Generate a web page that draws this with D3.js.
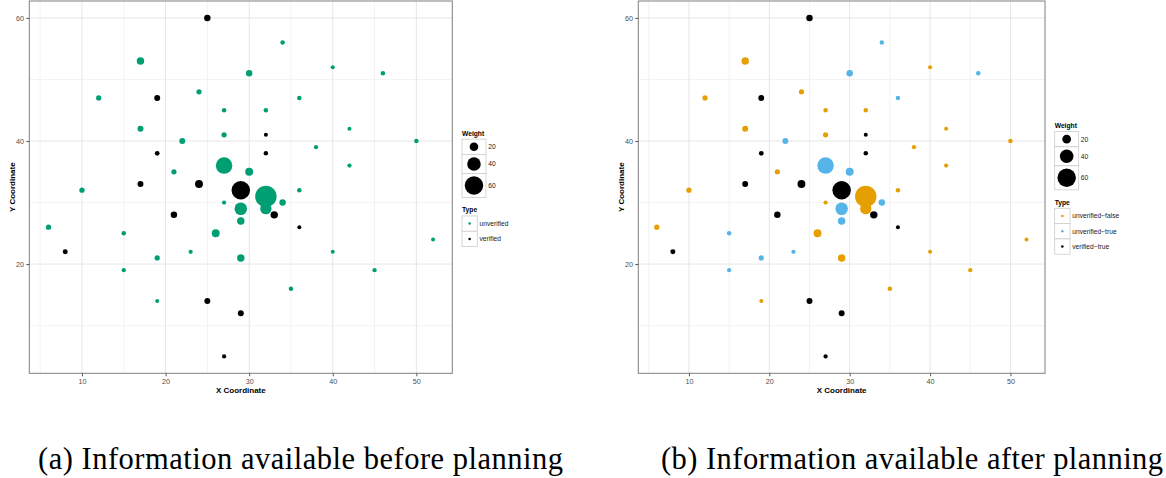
<!DOCTYPE html>
<html>
<head>
<meta charset="utf-8">
<script src="https://cdn.jsdelivr.net/npm/d3@7"></script>
<style>
  body { margin: 0; background: #fff; }
  svg { display: block; }
</style>
</head>
<body>
<svg id="chart" width="1166" height="478"></svg>
<script>
// Candidate target locations on the grid
const xCoord = [25, 34, 17, 30, 40, 46, 12, 19, 24, 27, 32, 36, 17, 27, 32, 42, 22, 50, 38, 19,
                32, 27, 30, 21, 42, 17, 24, 29, 32, 10, 36, 6, 8, 15, 19, 15, 23, 29, 26, 29,
                29, 27, 32, 34, 33, 21, 36, 40, 45, 52, 35, 19, 25, 29, 27];
const yCoord = [60, 56, 53, 51, 52, 51, 47, 47, 48, 45, 45, 47, 42, 41, 41, 42, 40, 40, 39, 38,
                38, 36, 35, 35, 36, 33, 33, 32, 31, 32, 32, 26, 22, 25, 21, 19, 22, 21, 25, 27,
                29, 30, 29, 30, 28, 28, 26, 22, 19, 24, 16, 14, 14, 12, 5];
const weight = [11, 3, 15, 11, 1, 3, 6, 9, 6, 3, 3, 3, 9, 6, 1, 1, 9, 3, 2, 4,
                3, 52, 17, 6, 2, 9, 17, 60, 72, 6, 3, 6, 5, 3, 6, 2, 2, 15, 17, 15,
                36, 2, 31, 11, 15, 11, 1, 1, 2, 1, 3, 1, 9, 9, 2];
// Verification status and ground truth known after planning
const typeAfter = ["verified-true", "unverified-true", "unverified-false", "unverified-true", "unverified-false",
                   "unverified-true", "unverified-false", "verified-true", "unverified-false", "unverified-false",
                   "unverified-false", "unverified-true", "unverified-false", "unverified-false", "verified-true",
                   "unverified-false", "unverified-true", "unverified-false", "unverified-false", "verified-true",
                   "verified-true", "unverified-true", "unverified-true", "unverified-false", "unverified-false",
                   "verified-true", "verified-true", "verified-true", "unverified-false", "unverified-false",
                   "unverified-false", "unverified-false", "verified-true", "unverified-true", "unverified-true",
                   "unverified-true", "unverified-true", "unverified-false", "unverified-false", "unverified-true",
                   "unverified-true", "unverified-false", "unverified-false", "unverified-true", "verified-true",
                   "verified-true", "verified-true", "unverified-false", "unverified-false", "unverified-false",
                   "unverified-false", "unverified-false", "verified-true", "verified-true", "verified-true"];
// Before planning only the verified flag is known
const typeBefore = typeAfter.map(t => t.split("-")[0]);

const xTicks = [10, 20, 30, 40, 50];
const yTicks = [20, 40, 60];
const weightBreaks = [20, 40, 60];
const typesBefore = ["unverified", "verified"];
const typesAfter = ["unverified-false", "unverified-true", "verified-true"];
const captions = ["(a) Information available before planning", "(b) Information available after planning"];

const colorsBefore = ["#009E73", "#000000"];
const colorsAfter = ["#E69F00", "#56B4E9", "#000000"];

const svg = d3.select("#chart");
const sans = "'Liberation Sans', Arial, Helvetica, sans-serif";

const points = xCoord.map((x, i) => ({
  x, y: yCoord[i], w: weight[i], before: typeBefore[i], after: typeAfter[i]
}));

// Axis ranges padded by 5% each side
function padded(vals) {
  const [lo, hi] = d3.extent(vals);
  const p = (hi - lo) * 0.05;
  return [lo - p, hi + p];
}
const xDomain = padded(xCoord);
const yDomain = padded(yCoord);

// Point radius grows with weight
const rScale = d3.scaleLinear().domain(d3.extent(weight)).range([2.0, 10.7]);

const plotTop = 1, plotBottom = 373.3;

function minorTicks(major, domain) {
  const step = major[1] - major[0];
  const out = [];
  const first = major[0] - step / 2;
  for (let v = first; v <= domain[1]; v += step) if (v >= domain[0]) out.push(v);
  return out.filter(v => !major.includes(v));
}

function drawPanel(cfg) {
  const g = svg.append("g");
  const x = d3.scaleLinear().domain(xDomain).range([cfg.left, cfg.right]);
  const y = d3.scaleLinear().domain(yDomain).range([plotBottom, plotTop]);

  // background grid
  const grid = g.append("g");
  grid.selectAll(".mx").data(minorTicks(xTicks, xDomain)).join("line")
    .attr("x1", d => x(d)).attr("x2", d => x(d))
    .attr("y1", plotTop).attr("y2", plotBottom)
    .attr("stroke", "#F3F3F3").attr("stroke-width", 1);
  grid.selectAll(".my").data(minorTicks(yTicks, yDomain)).join("line")
    .attr("y1", d => y(d)).attr("y2", d => y(d))
    .attr("x1", cfg.left).attr("x2", cfg.right)
    .attr("stroke", "#F3F3F3").attr("stroke-width", 1);
  grid.selectAll(".Mx").data(xTicks).join("line")
    .attr("x1", d => x(d)).attr("x2", d => x(d))
    .attr("y1", plotTop).attr("y2", plotBottom)
    .attr("stroke", "#E6E6E6").attr("stroke-width", 1);
  grid.selectAll(".My").data(yTicks).join("line")
    .attr("y1", d => y(d)).attr("y2", d => y(d))
    .attr("x1", cfg.left).attr("x2", cfg.right)
    .attr("stroke", "#E6E6E6").attr("stroke-width", 1);

  // targets
  const color = d3.scaleOrdinal().domain(cfg.types).range(cfg.colors);
  g.append("g").selectAll("circle").data(points).join("circle")
    .attr("cx", d => x(d.x)).attr("cy", d => y(d.y))
    .attr("r", d => rScale(d.w))
    .attr("fill", d => color(d[cfg.key]));

  // frame
  g.append("rect")
    .attr("x", cfg.left).attr("y", plotTop)
    .attr("width", cfg.right - cfg.left).attr("height", plotBottom - plotTop)
    .attr("fill", "none").attr("stroke", "#7F7F7F").attr("stroke-width", 1);

  // axes
  const xAxis = g.append("g").attr("transform", `translate(0,${plotBottom})`)
    .call(d3.axisBottom(x).tickValues(xTicks).tickSize(3).tickPadding(2.5));
  const yAxis = g.append("g").attr("transform", `translate(${cfg.left},0)`)
    .call(d3.axisLeft(y).tickValues(yTicks).tickSize(3).tickPadding(2.3));
  [xAxis, yAxis].forEach(a => {
    a.select(".domain").remove();
    a.selectAll("line").attr("stroke", "#555");
    a.selectAll("text").attr("fill", "#4D4D4D")
      .style("font-family", sans).style("font-size", "7.2px");
  });

  g.append("text")
    .attr("x", (cfg.left + cfg.right) / 2).attr("y", 393.2)
    .attr("text-anchor", "middle")
    .style("font-family", sans).style("font-size", "8px").style("font-weight", "bold")
    .text("X Coordinate");
  g.append("text")
    .attr("transform", `translate(${cfg.left - 17.6},${(plotTop + plotBottom) / 2}) rotate(-90)`)
    .attr("text-anchor", "middle").attr("dy", "0.35em")
    .style("font-family", sans).style("font-size", "8px").style("font-weight", "bold")
    .text("Y Coordinate");

  // legends
  const minKey = 15.3;
  const wKeys = weightBreaks.map(b => Math.max(minKey, 2 * rScale(b) + 5.5));
  const wKeyW = d3.max(wKeys);
  const tKeys = cfg.types.map(() => minKey);
  const total = 4 + 5.8 + d3.sum(wKeys) + 12.5 + 6 + d3.sum(tKeys);
  let cy = (plotTop + plotBottom) / 2 + 0.8 - total / 2 + 4;
  const lg = g.append("g");
  const lx = cfg.legendX;

  const title = (t, yc) => lg.append("text").attr("x", lx).attr("y", yc).attr("dy", "0.36em")
    .style("font-family", sans).style("font-size", "6.7px").style("font-weight", "bold").text(t);
  const label = (t, xx, yc) => lg.append("text").attr("x", xx).attr("y", yc).attr("dy", "0.36em")
    .attr("fill", "#1A1A1A")
    .style("font-family", sans).style("font-size", "6.7px").text(t);

  title("Weight", cy);
  let top = cy + 5.8;
  weightBreaks.forEach((b, i) => {
    const h = wKeys[i];
    lg.append("rect").attr("x", lx).attr("y", top).attr("width", wKeyW).attr("height", h)
      .attr("fill", "#fff").attr("stroke", "#CCCCCC").attr("stroke-width", 0.8);
    lg.append("circle").attr("cx", lx + wKeyW / 2).attr("cy", top + h / 2)
      .attr("r", rScale(b)).attr("fill", "#000");
    label(String(b), lx + wKeyW + 2.2, top + h / 2);
    top += h;
  });

  cy = top + 12.5;
  title("Type", cy);
  top = cy + 6;
  cfg.types.forEach((t, i) => {
    const h = tKeys[i];
    lg.append("rect").attr("x", lx).attr("y", top).attr("width", minKey).attr("height", h)
      .attr("fill", "#fff").attr("stroke", "#CCCCCC").attr("stroke-width", 0.8);
    lg.append("circle").attr("cx", lx + minKey / 2).attr("cy", top + h / 2)
      .attr("r", 1.25).attr("fill", color(t));
    label(t.replace(/-/g, "\u2212"), lx + minKey + 2.2, top + h / 2);
    top += h;
  });

  // sub-caption
  svg.append("text")
    .attr("x", cfg.capX).attr("y", 469)
    .attr("textLength", cfg.capW).attr("lengthAdjust", "spacing")
    .style("font-family", "'Liberation Serif', 'Times New Roman', serif")
    .style("font-size", "30.5px").attr("fill", "#000")
    .text(cfg.caption);
}

drawPanel({ left: 29.3, right: 452.3, legendX: 462, key: "before",
  types: typesBefore, colors: colorsBefore, caption: captions[0], capX: 38, capW: 525 });
drawPanel({ left: 638.3, right: 1045, legendX: 1054.7, key: "after",
  types: typesAfter, colors: colorsAfter, caption: captions[1], capX: 661, capW: 502 });
</script>
</body>
</html>
